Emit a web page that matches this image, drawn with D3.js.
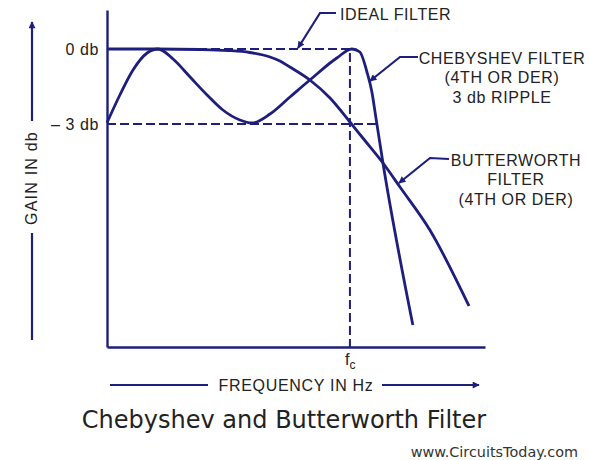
<!DOCTYPE html>
<html>
<head>
<meta charset="utf-8">
<script src="https://cdn.jsdelivr.net/npm/d3@7"></script>
<style>
  body { margin: 0; background: #fff; }
  svg { display: block; }
</style>
</head>
<body>
<svg id="chart" width="589" height="460"></svg>
<script>
// frequency normalised to fc = 1, gain in db
const gainTicks = [0, -3];
const gainTickLabels = ['0 db', '\u2013 3 db'];

const butterworthFreq = [0, 0.2, 0.383, 0.498, 0.588, 0.671, 0.712, 0.753, 0.835, 0.918, 1.0, 1.053, 1.136, 1.206, 1.329, 1.49];
const butterworthGain = [0, 0, -0.02, -0.06, -0.14, -0.32, -0.48, -0.72, -1.24, -1.96, -2.92, -3.56, -4.56, -5.52, -7.24, -10.28];

const chebyshevFreq = [0, 0.053, 0.107, 0.165, 0.21, 0.272, 0.342, 0.412, 0.477, 0.547, 0.597, 0.671, 0.753, 0.835, 0.946, 1.008, 1.041, 1.07, 1.09, 1.107, 1.136, 1.259];
const chebyshevGain = [-2.95, -1.84, -0.84, -0.16, 0, -0.4, -1.12, -1.84, -2.44, -2.84, -2.96, -2.6, -1.92, -1.24, -0.36, 0, -0.12, -0.92, -1.7, -2.75, -4.56, -11.04];

const idealFreq = [0, 1, 1];
const idealGain = [0, 0, -11.92];

const rippleFreq = [0, 1.111];
const rippleGain = [-3, -3];

const labels = [
  { lines: ['IDEAL FILTER'], x: 340, y: 14, anchor: 'start', leader: [[336, 13], [320, 13], [298, 48]] },
  { lines: ['CHEBYSHEV FILTER', '(4TH OR DER)', '3 db RIPPLE'], x: 502, y: 58, anchor: 'middle', leader: [[418, 57], [400, 57], [370, 81]] },
  { lines: ['BUTTERWORTH', 'FILTER', '(4TH OR DER)'], x: 516, y: 160, anchor: 'middle', leader: [[449, 159], [430, 158], [399, 183]] }
];

const navy = '#1e1e7c';
const ink = '#222';
const font = 'Liberation Sans, Arial, sans-serif';
const margin = { top: 10, left: 107, right: 104, bottom: 113 };
const width = 589, height = 460;

const x = d3.scaleLinear()
  .domain([0, 1.556])
  .range([margin.left, width - margin.right]);

const y = d3.scaleLinear()
  .domain([-11.92, 1.56])
  .range([height - margin.bottom, margin.top]);

const svg = d3.select('#chart');

const defs = svg.append('defs');
defs.append('marker')
  .attr('id', 'arrow')
  .attr('viewBox', '0 0 10 10')
  .attr('refX', 9).attr('refY', 5)
  .attr('markerWidth', 10).attr('markerHeight', 7)
  .attr('markerUnits', 'userSpaceOnUse')
  .attr('orient', 'auto')
  .append('path')
  .attr('d', 'M0,0L10,5L0,10Z')
  .attr('fill', navy);

const line = d3.line()
  .x(d => x(d[0]))
  .y(d => y(d[1]));

const zipped = (xs, ys) => xs.map((v, i) => [v, ys[i]]);

// axes
svg.append('g')
  .attr('transform', `translate(0,${y(-11.92)})`)
  .call(d3.axisBottom(x).ticks(0).tickSize(0).tickSizeOuter(0))
  .call(g => g.select('.domain').attr('stroke', navy).attr('stroke-width', 2.4));

svg.append('g')
  .attr('transform', `translate(${x(0)},0)`)
  .call(d3.axisLeft(y).tickValues(gainTicks).tickSize(0).tickPadding(8)
    .tickFormat((d, i) => gainTickLabels[i]))
  .call(g => g.select('.domain').attr('stroke', navy).attr('stroke-width', 2.4))
  .call(g => g.selectAll('text')
    .attr('font-family', font)
    .attr('font-size', 16)
    .attr('letter-spacing', 0.6)
    .attr('fill', ink));

// ideal filter and -3 db reference
svg.append('path')
  .attr('d', line(zipped(idealFreq, idealGain)))
  .attr('fill', 'none')
  .attr('stroke', navy)
  .attr('stroke-width', 2)
  .attr('stroke-dasharray', '9,4');

svg.append('path')
  .attr('d', line(zipped(rippleFreq, rippleGain)))
  .attr('fill', 'none')
  .attr('stroke', navy)
  .attr('stroke-width', 2)
  .attr('stroke-dasharray', '9,4');

// response curves
const curve = d3.line()
  .x(d => x(d[0]))
  .y(d => y(d[1]))
  .curve(d3.curveMonotoneX);

svg.append('path')
  .attr('d', curve(zipped(butterworthFreq, butterworthGain)))
  .attr('fill', 'none')
  .attr('stroke', navy)
  .attr('stroke-width', 2.8);

svg.append('path')
  .attr('d', curve(zipped(chebyshevFreq, chebyshevGain)))
  .attr('fill', 'none')
  .attr('stroke', navy)
  .attr('stroke-width', 2.8);

// fc label
const fc = svg.append('text')
  .attr('x', x(1) - 5)
  .attr('y', y(-11.92) + 18)
  .attr('font-family', font)
  .attr('font-size', 16)
  .attr('fill', ink);
fc.append('tspan').text('f');
fc.append('tspan').attr('font-size', 12).attr('dy', 4).text('c');

// annotations
labels.forEach(l => {
  svg.append('text')
    .attr('x', l.x)
    .attr('y', l.y)
    .attr('text-anchor', l.anchor)
    .attr('font-family', font)
    .attr('font-size', 16)
    .attr('letter-spacing', 0.6)
    .attr('fill', ink)
    .selectAll('tspan')
    .data(l.lines)
    .join('tspan')
    .attr('x', l.x)
    .attr('dy', (d, i) => i === 0 ? '0.35em' : 19.5)
    .text(d => d);

  svg.append('path')
    .attr('d', d3.line()(l.leader))
    .attr('fill', 'none')
    .attr('stroke', navy)
    .attr('stroke-width', 2.2)
    .attr('marker-end', 'url(#arrow)');
});

// axis titles
svg.append('text')
  .attr('transform', 'translate(31,178) rotate(-90)')
  .attr('text-anchor', 'middle')
  .attr('dy', '0.35em')
  .attr('font-family', font)
  .attr('font-size', 16)
  .attr('letter-spacing', 1.2)
  .attr('fill', ink)
  .text('GAIN IN db');

svg.append('line')
  .attr('x1', 32).attr('x2', 32).attr('y1', 121).attr('y2', 22)
  .attr('stroke', navy).attr('stroke-width', 2.2)
  .attr('marker-end', 'url(#arrow)');
svg.append('line')
  .attr('x1', 32).attr('x2', 32).attr('y1', 233).attr('y2', 340)
  .attr('stroke', navy).attr('stroke-width', 2.2);

svg.append('text')
  .attr('x', 296)
  .attr('y', 385)
  .attr('text-anchor', 'middle')
  .attr('dy', '0.35em')
  .attr('font-family', font)
  .attr('font-size', 16)
  .attr('letter-spacing', 0.7)
  .attr('fill', ink)
  .text('FREQUENCY IN Hz');

svg.append('line')
  .attr('x1', 110).attr('x2', 208).attr('y1', 385).attr('y2', 385)
  .attr('stroke', navy).attr('stroke-width', 2.2);
svg.append('line')
  .attr('x1', 382).attr('x2', 479).attr('y1', 385).attr('y2', 385)
  .attr('stroke', navy).attr('stroke-width', 2.2)
  .attr('marker-end', 'url(#arrow)');

// caption
svg.append('text')
  .attr('x', 284)
  .attr('y', 428)
  .attr('text-anchor', 'middle')
  .attr('font-family', 'DejaVu Sans, Verdana, sans-serif')
  .attr('font-size', 24)
  .attr('fill', ink)
  .text('Chebyshev and Butterworth Filter');

svg.append('text')
  .attr('x', 578)
  .attr('y', 457)
  .attr('text-anchor', 'end')
  .attr('font-family', 'DejaVu Sans, Verdana, sans-serif')
  .attr('font-size', 14.4)
  .attr('fill', '#333')
  .text('www.CircuitsToday.com');
</script>
</body>
</html>
